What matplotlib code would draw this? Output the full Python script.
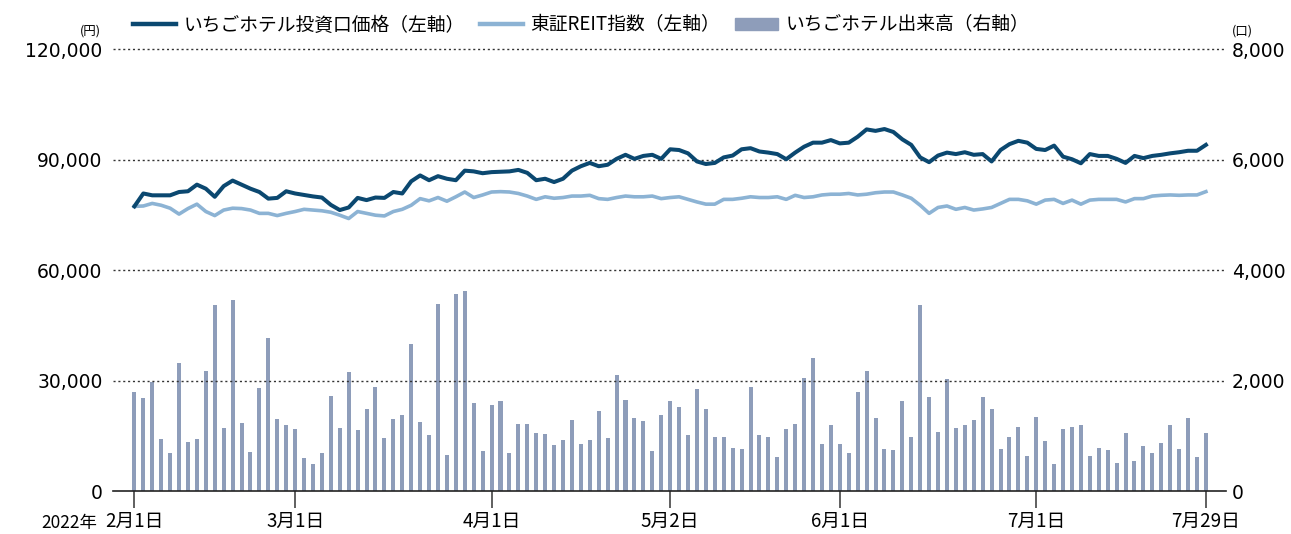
import numpy as np
import pandas as pd
import matplotlib
matplotlib.use("Agg")
import matplotlib.pyplot as plt
from matplotlib.patches import Patch
from matplotlib.lines import Line2D

plt.rcParams['font.family'] = ['Noto Sans CJK JP', 'DejaVu Sans']

# trading days Feb 1 - Jul 29 2022 (TSE)
holidays = ["2022-02-11", "2022-02-23", "2022-03-21", "2022-04-29",
            "2022-05-03", "2022-05-04", "2022-05-05", "2022-07-18"]
days = pd.bdate_range("2022-02-01", "2022-07-29")
days = days[~days.isin(pd.to_datetime(holidays))]

# いちごホテル投資口価格 (円)
price = [77300, 80800, 80300, 80300, 80300, 81200, 81400, 83200, 82100, 79900,
         82800, 84300, 83200, 82100, 81200, 79400, 79600, 81400, 80800, 80400,
         80000, 79700, 77700, 76300, 77000, 79600, 79000, 79700, 79600, 81200,
         80800, 84100, 85700, 84400, 85500, 84800, 84400, 87000, 86800, 86300,
         86600, 86700, 86800, 87200, 86400, 84400, 84800, 83900, 84800, 87000,
         88200, 89100, 88200, 88600, 90200, 91300, 90200, 91000, 91300, 90200,
         92800, 92600, 91700, 89500, 88800, 89100, 90600, 91100, 92800, 93100,
         92200, 91900, 91500, 90100, 91900, 93500, 94600, 94600, 95300, 94400,
         94600, 96200, 98200, 97800, 98300, 97500, 95500, 94000, 90600, 89300,
         91100, 91900, 91500, 92000, 91300, 91500, 89500, 92600, 94200, 95100,
         94600, 92900, 92600, 93800, 90800, 90100, 89000, 91500, 91000, 91000,
         90200, 89100, 91000, 90400, 91000, 91300, 91700, 92000, 92400, 92400,
         94000]

# 東証REIT指数 (価格換算)
reit = [77300, 77400, 78100, 77600, 76800, 75200, 76700, 77900, 75900, 74800,
        76300, 76800, 76700, 76300, 75400, 75400, 74800, 75400, 75900, 76500,
        76300, 76100, 75700, 74900, 74000, 75900, 75400, 74900, 74700, 75900,
        76500, 77600, 79400, 78800, 79700, 78700, 79900, 81200, 79700, 80400,
        81200, 81300, 81200, 80800, 80100, 79200, 79900, 79500, 79700, 80100,
        80100, 80300, 79400, 79200, 79700, 80100, 79900, 79900, 80100, 79400,
        79700, 79900, 79200, 78500, 77900, 77900, 79200, 79200, 79500, 79900,
        79700, 79700, 79900, 79200, 80300, 79700, 79900, 80400, 80600, 80600,
        80800, 80400, 80600, 81000, 81200, 81200, 80400, 79500, 77600, 75400,
        77000, 77400, 76500, 77000, 76300, 76600, 77000, 78100, 79200, 79200,
        78800, 77900, 79000, 79200, 78100, 79000, 77900, 79000, 79200, 79200,
        79200, 78500, 79400, 79400, 80100, 80300, 80400, 80300, 80400, 80400,
        81300]

# いちごホテル出来高 (口)
volume = [1790, 1680, 1970, 940, 690, 2320, 890, 940, 2170, 3370,
          1140, 3460, 1230, 710, 1860, 2770, 1300, 1200, 1120, 600,
          490, 690, 1720, 1140, 2150, 1100, 1480, 1880, 960, 1300,
          1380, 2660, 1250, 1010, 3390, 650, 3570, 3620, 1590, 720,
          1560, 1630, 690, 1210, 1210, 1050, 1030, 830, 920, 1290,
          850, 920, 1450, 960, 2100, 1650, 1320, 1270, 720, 1380,
          1630, 1520, 1010, 1850, 1480, 980, 980, 780, 760, 1880,
          1010, 980, 620, 1120, 1210, 2050, 2410, 850, 1200, 850,
          690, 1790, 2170, 1320, 760, 740, 1630, 980, 3370, 1700,
          1070, 2030, 1140, 1200, 1290, 1700, 1480, 760, 980, 1160,
          630, 1340, 900, 490, 1120, 1160, 1200, 630, 780, 740,
          510, 1050, 540, 810, 690, 870, 1200, 760, 1320, 620,
          1050]

tick_dates = ["2022-02-01", "2022-03-01", "2022-04-01", "2022-05-02",
              "2022-06-01", "2022-07-01", "2022-07-29"]
tick_labels = ["2月1日", "3月1日", "4月1日", "5月2日", "6月1日", "7月1日", "7月29日"]

c_price = "#0b4870"
c_reit = "#8cb3d4"
c_vol = "#8e9dba"
fs = 13.5

x = np.arange(len(days))

fig = plt.figure(figsize=(12.91, 5.34), dpi=100)
ax = fig.add_axes([0.0875, 0.0805, 0.8625, 0.8275])
ax2 = ax.twinx()

ax2.bar(x, volume, width=0.45, color=c_vol, zorder=2)
ax.plot(x, reit, color=c_reit, lw=2.6, zorder=3, solid_joinstyle='round')
ax.plot(x, price, color=c_price, lw=2.9, zorder=4, solid_joinstyle='round')

ax.set_zorder(ax2.get_zorder() + 1)
ax.patch.set_visible(False)

ax.set_xlim(-2.4, 122.3)
ax.set_ylim(0, 120000)
ax2.set_ylim(0, 8000)
ax.set_yticks(np.arange(0, 120001, 30000))
ax.set_yticklabels([f"{v:,}" for v in range(0, 120001, 30000)],
                   fontsize=fs, family='DejaVu Sans')
ax2.set_yticks(np.arange(0, 8001, 2000))
ax2.set_yticklabels([f"{v:,}" for v in range(0, 8001, 2000)],
                    fontsize=fs, family='DejaVu Sans')

for a in (ax, ax2):
    for s in ("top", "left", "right"):
        a.spines[s].set_visible(False)
ax.tick_params(axis='y', length=0, pad=7.5)
ax2.tick_params(axis='y', length=0, pad=4)
ax2.spines["bottom"].set_visible(False)
ax.spines["bottom"].set_color("#222222")
ax.spines["bottom"].set_linewidth(1.2)

for v in range(30000, 120001, 30000):
    ax.axhline(v, color="#333333", lw=1.0, ls=(0, (1.5, 2)), zorder=1, clip_on=False)

tick_pos = [days.get_loc(pd.Timestamp(d)) for d in tick_dates]
ax.set_xticks(tick_pos)
ax.set_xticklabels(tick_labels, fontsize=fs)
ax.tick_params(axis='x', length=12, width=1.2, color="#444444", pad=2.5)

fig.text(0.075, 0.021, "2022年", fontsize=12.5, ha='right', va='center')
fig.text(0.078, 0.93, "(円)", fontsize=9, ha='right', va='bottom')
fig.text(0.954, 0.93, "(口)", fontsize=9, ha='left', va='bottom')

handles = [Line2D([], [], color=c_price, lw=3.2),
           Line2D([], [], color=c_reit, lw=3.2),
           Patch(color=c_vol)]
labels = ["いちごホテル投資口価格（左軸）", "東証REIT指数（左軸）", "いちごホテル出来高（右軸）"]
fig.legend(handles, labels, loc='center left', bbox_to_anchor=(0.103, 0.953),
           ncol=3, frameon=False, fontsize=fs, handlelength=2.3,
           handleheight=0.65, handletextpad=0.4, columnspacing=0.8,
           borderpad=0, borderaxespad=0)

fig.savefig("out.png", dpi=100)
